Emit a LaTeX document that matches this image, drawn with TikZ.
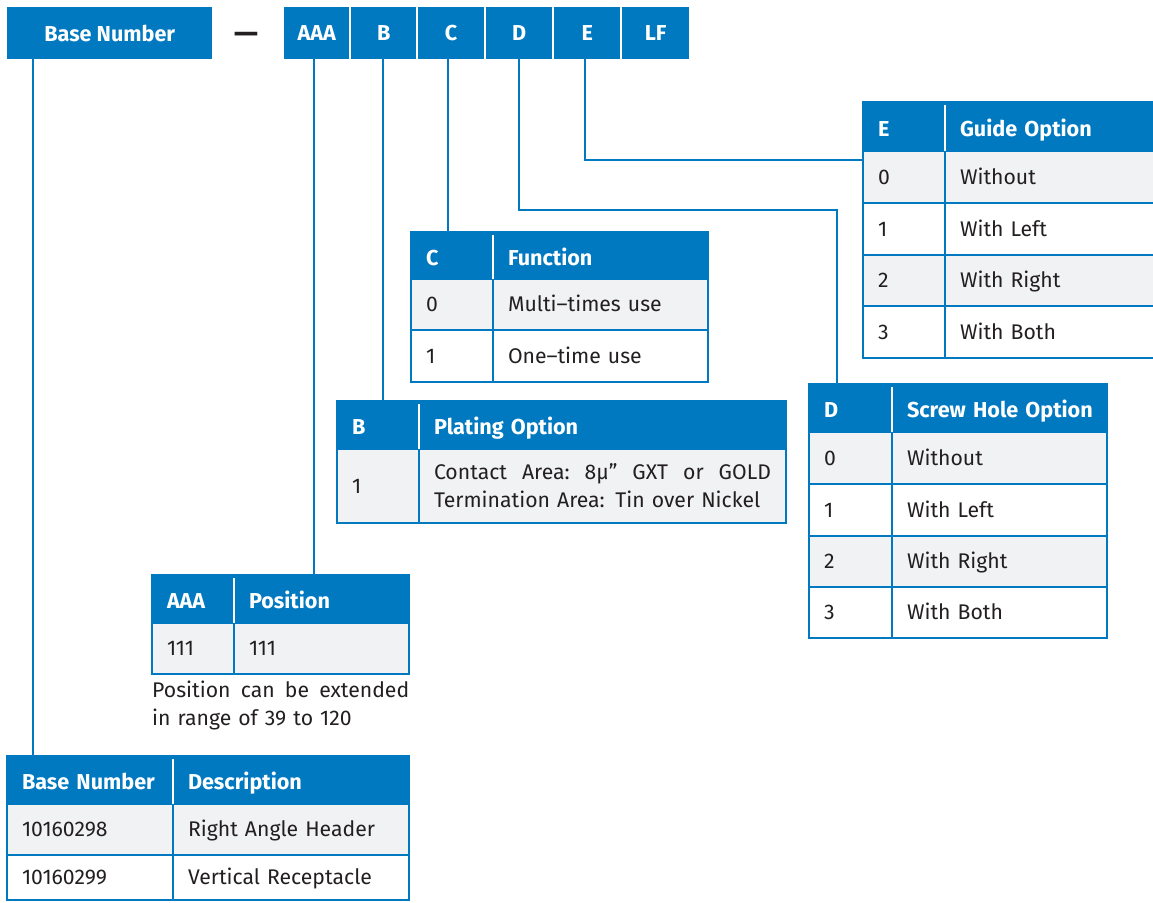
\documentclass[tikz,border=0pt]{standalone}
\usepackage{fontspec}
\setmainfont{Fira Sans}
\definecolor{pblue}{HTML}{0079C1}
\definecolor{rowgray}{HTML}{F1F2F4}
\definecolor{ink}{HTML}{231F20}
\newcommand\headfont{\fontsize{21.6}{25}\selectfont\bfseries}
\newcommand\bodyfont{\fontsize{21.2}{28}\selectfont}
\newcommand\tcell[7]{\pgfmathsetlengthmacro\tw{#5-30}%
  \node[#1, minimum width=#5pt, minimum height=#6pt, text width=\tw] (#2) at (#3,#4) {#7};}
\tikzset{
  cellbox/.style={draw=pblue, line width=2.4pt, anchor=north west, inner xsep=15pt,
    inner ysep=0pt, align=left, font=\bodyfont, text=ink, outer sep=0pt},
  hcell/.style={cellbox, fill=pblue, text=white, font=\headfont, text height=20pt, text depth=1pt},
  gcellm/.style={cellbox, fill=rowgray},
  gcell/.style={cellbox, fill=rowgray, text height=17pt, text depth=3pt},
  wcell/.style={cellbox, fill=white, text height=17pt, text depth=3pt},
  barbox/.style={fill=pblue, draw=none, anchor=north west, minimum height=52pt,
    inner sep=0pt, text=white, font=\headfont},
  hdiv/.style={white, line width=2pt},
  conn/.style={pblue, line width=2.4pt},
}
\begin{document}
\begin{tikzpicture}[x=1pt,y=-1pt]
\useasboundingbox (0,0) rectangle (1153,902);
% top bar
\node[barbox, minimum width=205pt] (bBase) at (7,7) {Base Number};
\node[text=ink, font=\fontsize{30}{30}\selectfont\bfseries, anchor=center, inner sep=0pt] (bDash) at (246,38) {—};
\node[barbox, minimum width=65pt] (bAAA) at (284,7) {AAA};
\node[barbox, minimum width=65pt] (bB) at (351,7) {B};
\node[barbox, minimum width=66pt] (bC) at (418,7) {C};
\node[barbox, minimum width=66pt] (bD) at (486,7) {D};
\node[barbox, minimum width=66pt] (bE) at (554,7) {E};
\node[barbox, minimum width=67pt] (bLF) at (622,7) {LF};
% E table
\tcell{wcell}{e11}{863}{203}{82}{52}{1}
\tcell{wcell}{e12}{945}{203}{211}{52}{With Left}
\tcell{wcell}{e31}{863}{306}{82}{52}{3}
\tcell{wcell}{e32}{945}{306}{211}{52}{With Both}
\tcell{gcell}{e01}{863}{151}{82}{52}{0}
\tcell{gcell}{e02}{945}{151}{211}{52}{Without}
\tcell{gcell}{e21}{863}{255}{82}{51}{2}
\tcell{gcell}{e22}{945}{255}{211}{51}{With Right}
\tcell{hcell}{eh1}{863}{102}{82}{49}{E}
\tcell{hcell}{eh2}{945}{102}{211}{49}{Guide Option}
% D table
\tcell{wcell}{d11}{809}{484}{83}{52}{1}
\tcell{wcell}{d12}{892}{484}{215}{52}{With Left}
\tcell{wcell}{d31}{809}{587}{83}{51}{3}
\tcell{wcell}{d32}{892}{587}{215}{51}{With Both}
\tcell{gcell}{d01}{809}{432}{83}{52}{0}
\tcell{gcell}{d02}{892}{432}{215}{52}{Without}
\tcell{gcell}{d21}{809}{536}{83}{51}{2}
\tcell{gcell}{d22}{892}{536}{215}{51}{With Right}
\tcell{hcell}{dh1}{809}{384}{83}{48}{D}
\tcell{hcell}{dh2}{892}{384}{215}{48}{\mbox{Screw Hole Option}}
% C table
\tcell{wcell}{c11}{411}{330}{82}{52}{1}
\tcell{wcell}{c12}{493}{330}{215}{52}{One–time use}
\tcell{gcell}{c01}{411}{279}{82}{51}{0}
\tcell{gcell}{c02}{493}{279}{215}{51}{Multi–times use}
\tcell{hcell}{ch1}{411}{232}{82}{47}{C}
\tcell{hcell}{ch2}{493}{232}{215}{47}{Function}
% B table
\tcell{gcell}{b01}{337}{449}{82}{74}{1}
\tcell{gcellm}{b02}{419}{449}{367}{74}{\hbox to \hsize{Contact\hfill Area:\hfill 8µ”\hfill GXT\hfill or\hfill GOLD}\\Termination Area: Tin over Nickel}
\tcell{hcell}{bh1}{337}{401}{82}{48}{B}
\tcell{hcell}{bh2}{419}{401}{367}{48}{Plating Option}
% AAA table
\tcell{gcell}{a01}{152}{623}{82}{51}{111}
\tcell{gcell}{a02}{234}{623}{175}{51}{111}
\tcell{hcell}{ah1}{152}{575}{82}{48}{AAA}
\tcell{hcell}{ah2}{234}{575}{175}{48}{Position}
\node[anchor=north west, inner sep=0pt, text width=257pt, align=left, font=\bodyfont, text=ink] (anote) at (152,681)
  {\hbox to \hsize{Position\hfill can\hfill be\hfill extended}\\in range of 39 to 120};
% Base table
\tcell{wcell}{n21}{7}{855}{166}{45}{10160299}
\tcell{wcell}{n22}{173}{855}{236}{45}{Vertical Receptacle}
\tcell{gcell}{n11}{7}{804}{166}{51}{10160298}
\tcell{gcell}{n12}{173}{804}{236}{51}{Right Angle Header}
\tcell{hcell}{nh1}{7}{756}{166}{48}{Base Number}
\tcell{hcell}{nh2}{173}{756}{236}{48}{Description}
% header dividers
\foreach \h in {eh1,dh1,ch1,bh1,ah1,nh1}{
  \draw[hdiv] ([yshift=-3pt]\h.north east) -- (\h.south east);
}
% connectors
\coordinate (sBase) at (33,59);
\coordinate (sAAA) at (314,59);
\coordinate (sB) at (383,59);
\coordinate (sC) at (448,59);
\coordinate (sD) at (519,59);
\coordinate (sE) at (585,59);
\coordinate (dCorner) at (837,210);
\coordinate (eJoin) at (863,160);
\draw[conn] (sBase) -- (sBase |- nh1.north);
\draw[conn] (sAAA) -- (sAAA |- ah1.north);
\draw[conn] (sB) -- (sB |- bh1.north);
\draw[conn] (sC) -- (sC |- ch1.north);
\draw[conn] (sD) |- (dCorner) -- (dCorner |- dh1.north);
\draw[conn] (sE) |- (eJoin);
\end{tikzpicture}
\end{document}
